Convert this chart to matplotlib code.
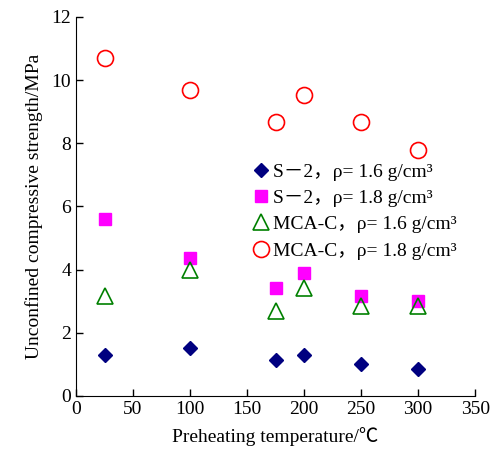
import matplotlib
matplotlib.use('Agg')
import matplotlib.pyplot as plt

plt.rcParams['font.family'] = ['Liberation Serif', 'Noto Sans CJK SC']

temps = [25, 100, 175, 200, 250, 300]
s2_16 = [1.3, 1.5, 1.15, 1.3, 1.02, 0.85]
s2_18 = [5.6, 4.35, 3.42, 3.88, 3.15, 3.0]
mca_16 = [3.15, 3.98, 2.68, 3.4, 2.85, 2.85]
mca_18 = [10.7, 9.68, 8.68, 9.52, 8.68, 7.78]

labels = ['S－2，ρ= 1.6 g/cm³',
          'S－2，ρ= 1.8 g/cm³',
          'MCA-C，ρ= 1.6 g/cm³',
          'MCA-C，ρ= 1.8 g/cm³']

fig = plt.figure(figsize=(4.97, 4.55), dpi=100)
ax = fig.add_axes([0.153, 0.130, 0.803, 0.833])

ax.plot(temps, s2_16, ls='none', marker='D', ms=7, color='#000080', label=labels[0])
ax.plot(temps, s2_18, ls='none', marker='s', ms=9, color='#ff00ff', label=labels[1])
ax.plot(temps, mca_16, ls='none', marker='^', ms=11, mfc='none', mec='#008000',
        mew=1.2, label=labels[2])
ax.plot(temps, mca_18, ls='none', marker='o', ms=11.5, mfc='none', mec='#ff0000',
        mew=1.2, label=labels[3])

ax.set_xlim(0, 350)
ax.set_ylim(0, 12)
ax.set_xticks(range(0, 351, 50))
ax.set_yticks(range(0, 13, 2))
ax.tick_params(direction='in', length=5, labelsize=14, width=1)
ax.spines['top'].set_visible(False)
ax.spines['right'].set_visible(False)
ax.set_xlabel('Preheating temperature/℃', fontsize=14, labelpad=7)
ax.set_ylabel('Unconfined compressive strength/MPa', fontsize=14, labelpad=6)

ax.legend(loc='upper left', bbox_to_anchor=(0.42, 0.635), frameon=False,
          fontsize=14, handletextpad=0.1, handlelength=1.0, labelspacing=0.45,
          borderaxespad=0)

fig.savefig('out.png', dpi=100)
